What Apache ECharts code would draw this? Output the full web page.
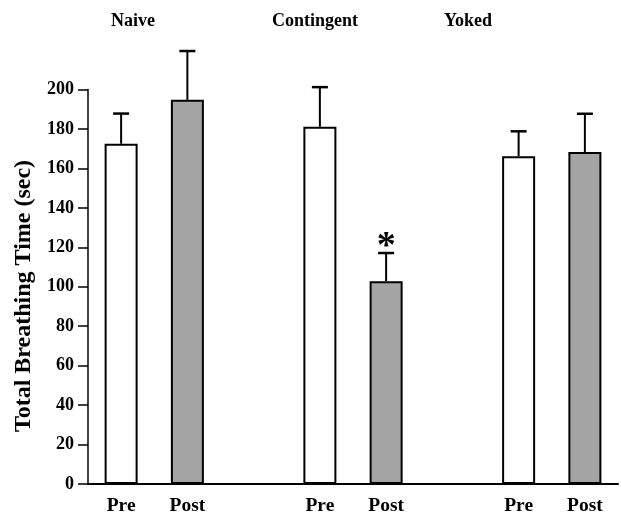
<!DOCTYPE html>
<html>
<head>
<meta charset="utf-8">
<script src="https://cdn.jsdelivr.net/npm/echarts@6/dist/echarts.min.js"></script>
<style>html,body{margin:0;padding:0;background:#fff}#c{width:621px;height:516px}</style>
</head>
<body>
<div id="c"></div>
<script>
var categories = ['Pre', 'Post', '', 'Pre', 'Post', '', 'Pre', 'Post'];
var means = [172.5, 194.8, null, 181.1, 102.8, null, 166.2, 168.3];
var errors = [15.3, 24.7, null, 20.1, 14.3, null, 12.6, 19.4];
var groupNames = ['Naive', 'Contingent', 'Yoked'];
var significant = [false, false, false, false, true, false, false, false];
var yTicks = [0, 20, 40, 60, 80, 100, 120, 140, 160, 180, 200];
var yTitle = 'Total Breathing Time (sec)';

var FONT = '"Liberation Serif", "Times New Roman", serif';
var chart = echarts.init(document.getElementById('c'), null, {renderer: 'canvas'});

var barData = means.map(function (v, i) {
  if (v === null) return {value: null};
  var isPost = categories[i] === 'Post';
  return {
    value: v,
    itemStyle: {color: isPost ? '#a4a4a4' : '#ffffff', borderColor: '#000', borderWidth: 2}
  };
});
var errData = means.map(function (v, i) {
  return v === null ? [i, null, null] : [i, v, v + errors[i]];
});

var option = {
  animation: false,
  backgroundColor: '#fff',
  grid: {left: 88, right: 3, top: 89.5, bottom: 29.5, containLabel: false},
  xAxis: {
    type: 'category',
    data: categories,
    axisLine: {lineStyle: {color: '#000', width: 2}},
    axisTick: {show: false},
    axisLabel: {color: '#000', fontFamily: FONT, fontWeight: 'bold', fontSize: 19.5, margin: 12, interval: 0}
  },
  yAxis: {
    type: 'value',
    min: 0, max: 200, interval: 20,
    axisLine: {show: true, lineStyle: {color: '#000', width: 1.5}},
    axisTick: {show: true, length: 10, lineStyle: {color: '#000', width: 1.5}},
    splitLine: {show: false},
    axisLabel: {
      color: '#000', fontFamily: FONT, fontWeight: 'bold', fontSize: 18, margin: 14,
      formatter: function (v) { return yTicks.indexOf(v) >= 0 ? String(v) : ''; }
    }
  },
  series: [
    {
      type: 'bar',
      data: barData,
      barWidth: 33,
      silent: true
    },
    {
      type: 'custom',
      clip: false,
      silent: true,
      data: errData,
      z: 5,
      renderItem: function (params, api) {
        var idx = api.value(0);
        var lo = api.value(1), hi = api.value(2);
        if (lo === null || isNaN(lo)) return null;
        var p0 = api.coord([idx, lo]);
        var p1 = api.coord([idx, hi]);
        var cap = 8;
        var children = [
          {type: 'line', shape: {x1: p0[0], y1: p0[1], x2: p1[0], y2: p1[1]}, style: {stroke: '#000', lineWidth: 2}},
          {type: 'line', shape: {x1: p1[0] - cap, y1: p1[1], x2: p1[0] + cap, y2: p1[1]}, style: {stroke: '#000', lineWidth: 2.5}}
        ];
        if (significant[idx]) {
          children.push({type: 'text', x: p1[0], y: p1[1] + 13, style: {
            text: '*', fill: '#000', font: 'bold 38px ' + FONT, align: 'center', verticalAlign: 'bottom'
          }});
        }
        return {type: 'group', children: children};
      }
    }
  ],
  graphic: [
    {type: 'text', x: 133, y: 21, style: {text: groupNames[0], fill: '#000', font: 'bold 18px ' + FONT, align: 'center', verticalAlign: 'middle'}},
    {type: 'text', x: 315, y: 21, style: {text: groupNames[1], fill: '#000', font: 'bold 18px ' + FONT, align: 'center', verticalAlign: 'middle'}},
    {type: 'text', x: 468, y: 21, style: {text: groupNames[2], fill: '#000', font: 'bold 18px ' + FONT, align: 'center', verticalAlign: 'middle'}},
    {type: 'text', x: 24, y: 296, rotation: Math.PI / 2, style: {text: yTitle, fill: '#000', font: 'bold 24px ' + FONT, align: 'center', verticalAlign: 'middle'}}
  ]
};
chart.setOption(option);
</script>
</body>
</html>
